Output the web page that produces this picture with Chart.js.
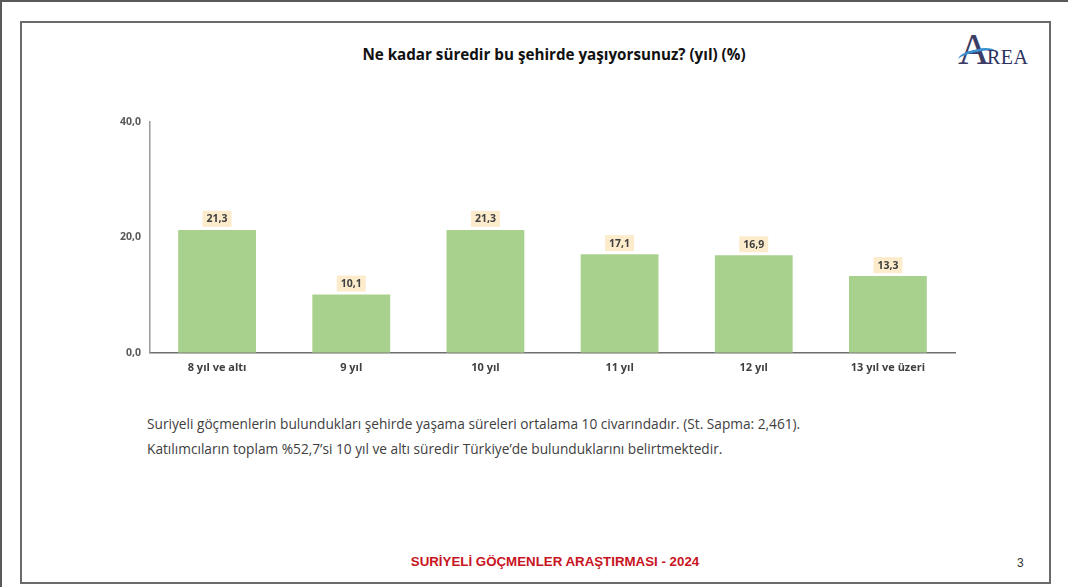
<!DOCTYPE html>
<html>
<head>
<meta charset="utf-8">
<script src="https://cdn.jsdelivr.net/npm/chart.js@4.4.1/dist/chart.umd.min.js"></script>
<style>
  html, body { margin:0; padding:0; background:#fff; }
  body { width:1068px; height:587px; position:relative; overflow:hidden; font-family:"Open Sans", sans-serif; }
  .outerTop { position:absolute; left:0; top:0; width:1068px; height:2px; background:#5a5a5a; }
  .outerLeft { position:absolute; left:0; top:0; width:2px; height:587px; background:#5a5a5a; }
  .frame { position:absolute; left:20px; top:21px; width:1027px; height:559px; border:2px solid #6a6a6a; }
  #c { position:absolute; left:0; top:0; }
  .title { position:absolute; left:0; width:1108px; top:44px; text-align:center; font-weight:bold; font-size:15.2px; color:#111; }
  .txt { position:absolute; left:147px; font-size:13.7px; color:#404040; }
  .footer { position:absolute; left:0; width:1110px; top:554px; text-align:center; font-family:"Liberation Sans", Arial, sans-serif; font-weight:bold; font-size:13.3px; color:#c8141e; }
  .pnum { position:absolute; left:1017px; top:556px; font-family:"Liberation Sans", Arial, sans-serif; font-size:12px; color:#333; }
  .logo { position:absolute; left:958px; top:27px; width:85px; height:44px; }
  .logoA { position:absolute; left:0px; top:0px; font-family:"Liberation Serif", serif; font-size:44px; color:#3b3d66; line-height:46px; }
  .logoREA { position:absolute; left:29px; top:18px; font-family:"Liberation Serif", serif; font-size:20px; color:#2e3160; letter-spacing:0.5px; line-height:24px; }
  .swoosh { position:absolute; left:0px; top:22px; width:38px; height:10px; border-top:3px solid #3a8fd0; border-radius:50% 50% 0 0; transform:rotate(-12deg); }
</style>
</head>
<body>
<div class="outerTop"></div>
<div class="outerLeft"></div>
<div class="frame"></div>
<div class="title">Ne kadar süredir bu şehirde yaşıyorsunuz? (yıl) (%)</div>
<div class="logo"><span class="logoA">A</span><div class="swoosh"></div><span class="logoREA">REA</span></div>
<div class="txt" style="top:414px;">Suriyeli göçmenlerin bulundukları şehirde yaşama süreleri ortalama 10 civarındadır. (St. Sapma: 2,461).</div>
<div class="txt" style="top:439px;">Katılımcıların toplam %52,7’si 10 yıl ve altı süredir Türkiye’de bulunduklarını belirtmektedir.</div>
<div class="footer">SURİYELİ GÖÇMENLER ARAŞTIRMASI - 2024</div>
<div class="pnum">3</div>
<canvas id="c" width="1068" height="587"></canvas>
<script>
const categories = ["8 yıl ve altı", "9 yıl", "10 yıl", "11 yıl", "12 yıl", "13 yıl ve üzeri"];
const values = [21.3, 10.1, 21.3, 17.1, 16.9, 13.3];
const yTicks = [0, 20, 40];

const fmt = v => v.toFixed(1).replace('.', ',');

const labelPlugin = {
  id: 'valueLabels',
  afterDatasetsDraw(chart) {
    const ctx = chart.ctx;
    const meta = chart.getDatasetMeta(0);
    ctx.save();
    ctx.font = 'bold 10.5px "Open Sans", sans-serif';
    ctx.textAlign = 'center';
    ctx.textBaseline = 'middle';
    meta.data.forEach((bar, i) => {
      const t = fmt(values[i]);
      const w = ctx.measureText(t).width + 8;
      const h = 16;
      const cy = bar.y - 3 - h / 2;
      ctx.fillStyle = '#fdeccc';
      ctx.fillRect(bar.x - w / 2, cy - h / 2, w, h);
      ctx.fillStyle = '#404040';
      ctx.fillText(t, bar.x, cy + 0.5);
    });
    ctx.restore();
  }
};

new Chart(document.getElementById('c'), {
  type: 'bar',
  data: {
    labels: categories,
    datasets: [{
      data: values,
      backgroundColor: '#a9d18e',
      categoryPercentage: 1.0,
      barPercentage: 0.58
    }]
  },
  options: {
    responsive: false,
    animation: false,
    events: [],
    layout: { padding: { left: 110, right: 113, top: 122, bottom: 205 } },
    plugins: { legend: { display: false }, tooltip: { enabled: false }, title: { display: false } },
    scales: {
      x: {
        grid: { display: false, drawTicks: false },
        border: { display: true, color: '#6e6e6e', width: 1.5 },
        ticks: { color: '#404040', font: { family: '"Open Sans", sans-serif', size: 11, weight: 'bold' }, padding: 8, maxRotation: 0 }
      },
      y: {
        min: 0, max: 40,
        afterFit(scale) { scale.width = 40; },
        afterBuildTicks(scale) { scale.ticks = yTicks.map(v => ({ value: v })); },
        grid: { display: false, drawTicks: false },
        border: { display: true, color: '#9a9a9a', width: 1.5 },
        ticks: { color: '#595959', font: { family: '"Open Sans", sans-serif', size: 10.5, weight: 'bold' }, padding: 9, callback: v => fmt(v) }
      }
    }
  },
  plugins: [labelPlugin]
});
</script>
</body>
</html>
